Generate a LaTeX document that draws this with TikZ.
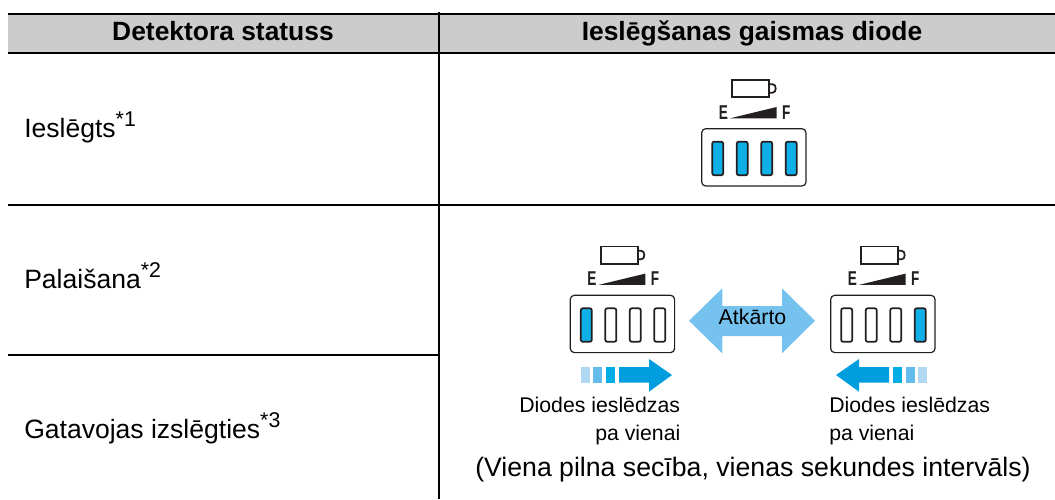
\documentclass[tikz,border=0pt]{standalone}
\usepackage{fontspec}
\setmainfont{Liberation Sans}
\definecolor{headgray}{HTML}{CCCCCC}
\definecolor{led}{HTML}{0FB0E8}
\definecolor{dkline}{HTML}{231F20}
\definecolor{fadeA}{HTML}{B0D8F2}
\definecolor{fadeB}{HTML}{64BCEC}
\definecolor{fadeC}{HTML}{00AEE6}
\definecolor{arrowblue}{HTML}{009EDE}
\definecolor{bigarrow}{HTML}{75C2EE}
\tikzset{
 rule/.style={draw=black,line width=1.5pt},
 headtext/.style={font=\fontsize{19.8}{22}\selectfont\bfseries,anchor=base,inner sep=0pt},
 celltext/.style={font=\fontsize{19.9}{24}\selectfont,anchor=base west,inner sep=0pt},
 smalltext/.style={font=\fontsize{15.95}{18}\selectfont,anchor=base west,inner sep=0pt},
 wholetext/.style={font=\fontsize{20}{24}\selectfont,anchor=base west,inner sep=0pt},
 ledon/.style={draw=dkline,line width=1.3pt,rounded corners=1.5pt,fill=led},
 ledoff/.style={draw=dkline,line width=1.3pt,rounded corners=1.5pt,fill=white},
 panel/.style={draw=dkline,line width=0.9pt,rounded corners=3pt,fill=white},
 batt/.style={draw=dkline,line width=1.3pt},
 icontext/.style={font=\fontsize{15}{16}\selectfont\bfseries,text=dkline,inner sep=0pt,xscale=.68},
}
\newcommand{\supmark}[1]{\raisebox{8pt}{\fontsize{16}{17}\selectfont #1}}
\newcommand{\ledicon}[6]{%
 \begin{scope}[shift={(#1,#2)}]
  \draw[panel] (0,0) rectangle (104.3,57.3);
  \draw[#3] (10.5,13) rectangle (21.5,46.5);
  \draw[#4] (35,13) rectangle (46,46.5);
  \draw[#5] (59.5,13) rectangle (70.5,46.5);
  \draw[#6] (84,13) rectangle (95,46.5);
  \draw[batt] (30.6,-48.7) rectangle (67.6,-31.4);
  \draw[batt] (67.6,-44.5) -- (71,-44.5) .. controls (75,-44.5) and (75,-36) .. (71,-36) -- (67.6,-36);
  \fill[dkline] (28.3,-10.4) -- (75,-21.7) -- (75,-10.4) -- cycle;
  \node[icontext] at (21.6,-16.4) {E};
  \node[icontext] at (84.6,-16.4) {F};
 \end{scope}}
\begin{document}
\begin{tikzpicture}[x=0.75pt,y=-0.75pt]
\useasboundingbox (0,0) rectangle (1055,499);
\fill[headgray] (8,14) rectangle (1055,53.5);
\draw[rule] (8,14) -- (1055,14);
\draw[rule] (8,53.5) -- (1055,53.5);
\draw[rule] (8,205) -- (1055,205);
\draw[rule] (8,355) -- (439,355);
\draw[rule] (439,12) -- (439,499);
\node[headtext] (h1) at (223,41) {Detektora statuss};
\node[headtext] (h2) at (752,41) {Ieslēgšanas gaismas diode};
\node[celltext] (s1) at (24,137.5) {Ieslēgts\supmark{*1}};
\node[celltext] (s2) at (24,288.3) {Palaišana\supmark{*2}};
\node[celltext] (s3) at (24,438.3) {Gatavojas izslēgties\supmark{*3}};
\ledicon{701.7}{128.7}{ledon}{ledon}{ledon}{ledon}
\ledicon{570.3}{295.3}{ledon}{ledoff}{ledoff}{ledoff}
\ledicon{830.7}{295.3}{ledoff}{ledoff}{ledoff}{ledon}
\fill[bigarrow] (689,320.8) -- (722.3,288.3) -- (722.3,306) -- (782,306) -- (782,288.3) -- (815,320.8) -- (782,353.3) -- (782,336) -- (722.3,336) -- (722.3,353.3) -- cycle;
\node[font=\fontsize{16}{18}\selectfont,inner sep=0pt,anchor=base] (rep) at (752.5,324.3) {Atkārto};
\fill[fadeA] (581,367) rectangle (590,382.7);
\fill[fadeB] (593,367) rectangle (602,382.7);
\fill[fadeC] (606,367) rectangle (615,382.7);
\fill[arrowblue] (619,367) -- (649,367) -- (649,359) -- (672,375) -- (649,391.7) -- (649,382.7) -- (619,382.7) -- cycle;
\fill[fadeC] (893,367) rectangle (902,382.7);
\fill[fadeB] (906,367) rectangle (915,382.7);
\fill[fadeA] (918,367) rectangle (927,382.7);
\fill[arrowblue] (889,367) -- (859,367) -- (859,359) -- (836,375) -- (859,391.7) -- (859,382.7) -- (889,382.7) -- cycle;
\node[smalltext] (la) at (519,412.7) {Diodes ieslēdzas};
\node[smalltext] (lb) at (595,440) {pa vienai};
\node[smalltext] (ra) at (829,412.7) {Diodes ieslēdzas};
\node[smalltext] (rb) at (829,440) {pa vienai};
\node[wholetext] (note) at (475,476) {(Viena pilna secība, vienas sekundes intervāls)};
\end{tikzpicture}
\end{document}
